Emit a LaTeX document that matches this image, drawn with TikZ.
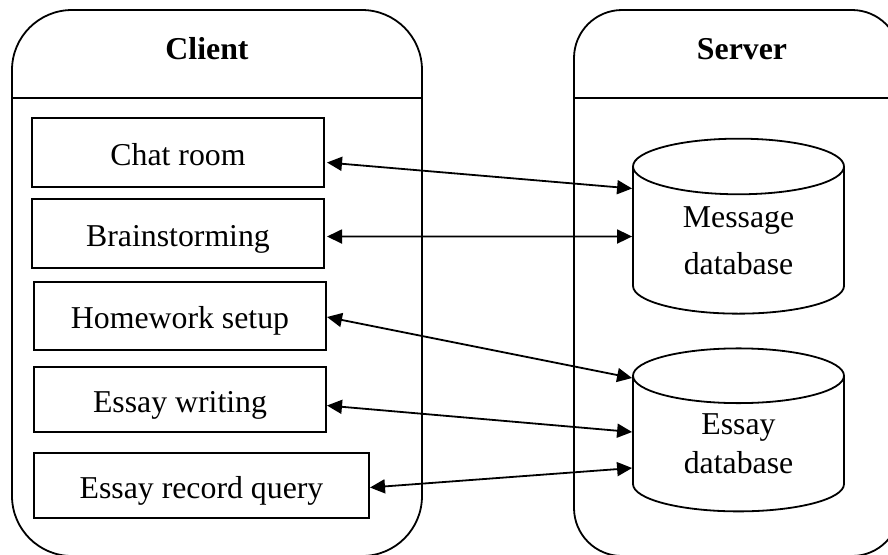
\documentclass[tikz,border=0pt]{standalone}
\usepackage{fontspec}
\setmainfont{Liberation Serif}
\usetikzlibrary{arrows.meta,positioning,calc,shapes.geometric}

\begin{document}
\begin{tikzpicture}[
    x=0.5pt, y=-0.5pt,
    font=\fontsize{15.9pt}{18.5pt}\selectfont,
    line width=0.9pt,
    lane/.style={draw, rectangle, anchor=north west, outer sep=0pt},
    head/.style={font=\fontsize{15.9pt}{18.5pt}\selectfont\bfseries},
    module/.style={draw, rectangle, anchor=north west, outer sep=0pt,
                   minimum width=146pt, minimum height=34pt, inner sep=0pt,
                   text height=12.5pt, text depth=0pt},
    store/.style={draw, cylinder, shape border rotate=90, aspect=0.5,
                  minimum width=105.5pt, inner sep=0pt, align=center},
    link/.style={{Triangle[length=7.5pt,width=7pt]}-{Triangle[length=7.5pt,width=7pt]}},
  ]
\useasboundingbox (0,0) rectangle (888,554);

% swimlanes
\node[lane, rounded corners=30pt, minimum width=205pt, minimum height=273pt] (client) at (12,10) {};
\node[lane, rounded corners=24pt, minimum width=163pt, minimum height=273pt] (server) at (574,10) {};
\draw ($(client.north west)+(0,88)$) -- ($(client.north east)+(0,88)$);
\draw ($(server.north west)+(0,88)$) -- ($(server.north east)+(0,88)$);
\node[head] (clienthead) at (207,49) {Client};
\node[head] (serverhead) at (742,49) {Server};

% client modules
\node[module, minimum height=34.5pt] (chat) at (32,118) {Chat room};
\node[module, minimum height=34.5pt] (brain) at (32,199) {Brainstorming};
\node[module] (homework) at (34,282) {Homework setup};
\node[module, minimum height=32.5pt] (essay) at (34,367) {Essay writing};
\node[module, minimum height=32.5pt, minimum width=167.5pt] (query) at (34,453) {Essay record query};

% server databases
\node[store, minimum height=87.5pt] (msgdb) at (738.5,240.5) {Message\\[5pt]database};
\node[store, minimum height=81.5pt] (essaydb) at (738.5,444) {Essay\\[1pt]database};

% links
\draw[link] ($(chat.east)+(3,10)$) -- ($(msgdb.west)+(0,-52)$);
\draw[link] ($(brain.east)+(3,3)$) -- ($(msgdb.west)+(0,-4)$);
\draw[link] ($(homework.east)+(1,1)$) -- ($(essaydb.west)+(0,-66)$);
\draw[link] ($(essay.east)+(1,6)$) -- ($(essaydb.west)+(0,-12)$);
\draw[link] ($(query.east)+(1,2)$) -- ($(essaydb.west)+(0,24)$);
\end{tikzpicture}
\end{document}
